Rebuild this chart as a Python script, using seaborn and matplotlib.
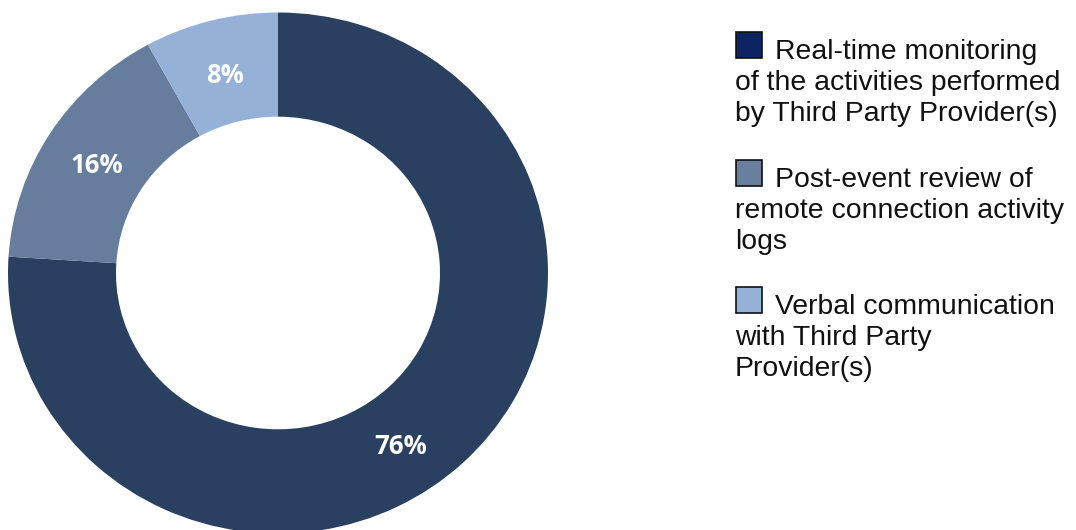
import matplotlib
matplotlib.use("Agg")
import numpy as np
import matplotlib.pyplot as plt
from matplotlib.patches import Rectangle
import seaborn as sns

# Data
categories = [
    "Real-time monitoring\nof the activities performed\nby Third Party Provider(s)",
    "Post-event review of\nremote connection activity\nlogs",
    "Verbal communication\nwith Third Party\nProvider(s)",
]
shares = [76, 16, 8]
slice_colors = ["#2a4060", "#667d9d", "#95b1d7"]
legend_colors = ["#0c2461", "#687f9f", "#95b2d8"]
label_angle_shift = [-8.5, 0.0, 0.0]  # nudge for percentage labels (degrees)

sns.set_theme(style="white")
plt.rcParams["font.family"] = ["Liberation Sans", "DejaVu Sans"]

W, H = 1076, 530
fig = plt.figure(figsize=(W / 100, H / 100), dpi=100)
fig.patch.set_facecolor("white")

# Donut axes, in pixel geometry (ring is slightly wider than tall)
cx, cy, rx, ry = 278, 273, 270, 260.5
ax = fig.add_axes([(cx - rx) / W, (H - cy - ry) / H, 2 * rx / W, 2 * ry / H])
wedges, _, autotexts = ax.pie(
    shares,
    colors=slice_colors,
    startangle=90,
    counterclock=False,
    radius=1,
    wedgeprops=dict(width=0.4, edgecolor="none", linewidth=0),
    autopct=lambda p: f"{p:.0f}%",
    pctdistance=0.8,
    textprops=dict(color="white", family="Open Sans", fontweight="bold", fontsize=18.5),
)
ax.set_aspect("auto")
ax.set_xlim(-1, 1)
ax.set_ylim(-1, 1)
ax.axis("off")

for w, t, shift in zip(wedges, autotexts, label_angle_shift):
    mid = np.deg2rad((w.theta1 + w.theta2) / 2 + shift)
    t.set_position((0.795 * np.cos(mid), 0.795 * np.sin(mid) - 0.012))

# Legend: square marker inline with first line, wrapped lines start under it
sq_x, sq_size = 736, 26
text_x_first, text_x_rest = 775, 735
entry_tops = [32, 160, 287]
line_pitch = 31
for label, color, top in zip(categories, legend_colors, entry_tops):
    fig.add_artist(Rectangle((sq_x / W, 1 - (top + sq_size) / H), sq_size / W, sq_size / H,
                             transform=fig.transFigure, facecolor=color,
                             edgecolor="#111111", linewidth=1.2))
    base = top + sq_size + 1
    for j, line in enumerate(label.split("\n")):
        x = text_x_first if j == 0 else text_x_rest
        fig.text(x / W, 1 - (base + j * line_pitch) / H, line, fontsize=20.4,
                 color="#111111", va="baseline", ha="left")

fig.savefig("out.png", dpi=100, facecolor="white")
